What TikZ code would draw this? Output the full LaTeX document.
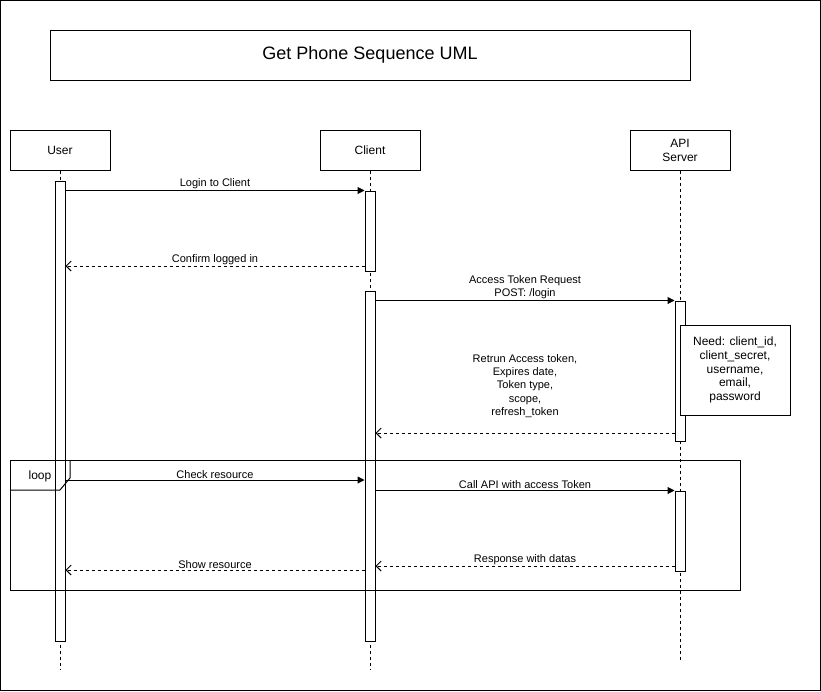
\documentclass[tikz,border=0pt]{standalone}
\usepackage{fontspec}
\setmainfont{Liberation Sans}
\usetikzlibrary{arrows, arrows.meta}
\usetikzlibrary{calc}

\tikzset{
  actor/.style={draw, minimum width=100pt, minimum height=40pt, inner sep=0pt, align=center, font=\fontsize{12}{14}\selectfont},
  bar/.style={draw, fill=white, minimum width=10pt, inner sep=0pt, anchor=north},
  lifeline/.style={dash pattern=on 3pt off 3pt},
  call/.style={-{Triangle[length=7pt, width=7pt]}},
  reply/.style={dash pattern=on 3pt off 3pt, -{Straight Barb[length=5pt, width=10pt]}},
  msg/.style={midway, above, inner sep=1pt, align=center, font=\fontsize{11}{13.3}\selectfont},
}

\begin{document}
\begin{tikzpicture}[x=1pt, y=-1pt, line width=1pt]
      \useasboundingbox (0,0) rectangle (821,691);
      \draw (0.5,0.5) rectangle (820.5,690.5);

      % title
      \node[draw, minimum width=640pt, minimum height=50pt, font=\fontsize{18}{20}\selectfont] (title) at (370,55) {Get Phone Sequence UML};

      % participants
      \node[actor] (user) at (60,150) {User};
      \node[actor] (client) at (370,150) {Client};
      \node[actor] (api) at (680,150) {API\\Server};

      \coordinate (userend) at (60,670);
      \coordinate (clientend) at (370,670);
      \coordinate (apiend) at (680,660);
      \draw[lifeline] (user.south) -- (userend);
      \draw[lifeline] (client.south) -- (clientend);
      \draw[lifeline] (api.south) -- (apiend);

      % activations
      \node[bar, minimum height=460pt] (ub) at (60,180.5) {};
      \node[bar, minimum height=80pt] (cb1) at (370,190.5) {};
      \node[bar, minimum height=350pt] (cb2) at (370,290.5) {};
      \node[bar, minimum height=140pt] (ab1) at (680,300.5) {};
      \node[bar, minimum height=80pt] (ab2) at (680,490.5) {};

      % message rows
      \coordinate (r1) at (0,266);
      \coordinate (r2) at (0,433);
      \coordinate (r3) at (0,480);
      \coordinate (r4) at (0,566);
      \coordinate (r5) at (0,570);

      \draw[call] (ub.east |- cb1.north) -- (cb1.north west) node[msg] {Login to Client};
      \draw[reply] (cb1.west |- r1) -- (ub.east |- r1) node[msg] {Confirm logged in};
      \draw[call] (cb2.east |- ab1.north) -- (ab1.north west) node[msg] {Access Token Request\\POST: /login};
      \draw[reply] (ab1.west |- r2) -- (cb2.east |- r2) node[msg, above=14pt] {Retrun Access token,\\Expires date,\\Token type,\\scope,\\refresh\_token};
      \draw[call] (ub.east |- r3) -- (cb2.west |- r3) node[msg] {Check resource};
      \draw[call] (cb2.east |- ab2.north) -- (ab2.north west) node[msg] {Call API with access Token};
      \draw[reply] (ab2.west |- r4) -- (cb2.east |- r4) node[msg] {Response with datas};
      \draw[reply] (cb2.west |- r5) -- (ub.east |- r5) node[msg] {Show resource};

      % note
      \node[draw, fill=white, minimum width=110pt, minimum height=90pt, align=center, font=\fontsize{12}{13.8}\selectfont] (need) at (735,370) {Need: client\_id,\\client\_secret,\\username,\\email,\\password};

      % loop frame
      \draw (10,460) rectangle (740,590);
      \draw (10,490) -- (60,490) -- (70,478) -- (70,460);
      \node[inner sep=0pt, font=\fontsize{12}{14}\selectfont] (loop) at (40,476) {loop};
    \end{tikzpicture}
\end{document}
